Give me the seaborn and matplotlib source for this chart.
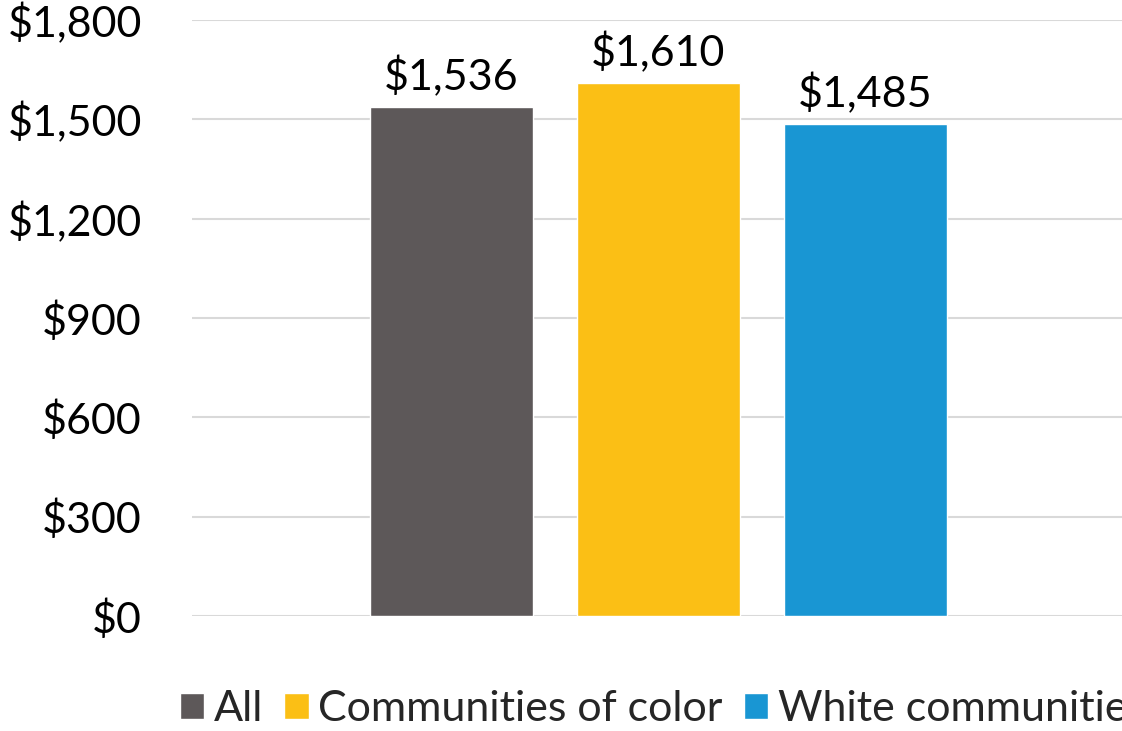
import matplotlib
matplotlib.use("Agg")
import matplotlib.pyplot as plt
import seaborn as sns
import pandas as pd

groups = ["All", "Communities of color", "White communities"]
values = [1536, 1610, 1485]
colors = ["#5d5859", "#fbbf15", "#1996d3"]
yticks = [0, 300, 600, 900, 1200, 1500, 1800]

sns.set_theme(style="white")
plt.rcParams["font.family"] = ["Lato", "DejaVu Sans"]

df = pd.DataFrame({"cat": [""] * len(groups), "group": groups, "value": values})

FS = 31
W, H = 1122, 731
fig = plt.figure(figsize=(W / 100, H / 100), dpi=100)
ax = fig.add_axes([192 / W, (H - 616) / H, (W - 192) / W, 596 / H])

sns.barplot(data=df, x="cat", y="value", hue="group", palette=colors,
            hue_order=groups, width=0.8, gap=0.2126, saturation=1,
            ax=ax, legend=True, errorbar=None)

ax.set_xlim(-0.6037 + (2 / 776), 0.5973)
ax.set_ylim(0, 1800)
ax.set_yticks(yticks)
ax.set_yticklabels([f"${v:,}" for v in yticks], fontsize=FS, color="black")
ax.set_xticks([])
ax.set_xlabel("")
ax.set_ylabel("")
ax.tick_params(axis="y", length=0, pad=36)
ax.grid(axis="y", color="#d9d9d9", linewidth=1.5)
ax.set_axisbelow(True)
for s in ax.spines.values():
    s.set_visible(False)

for cont in ax.containers:
    ax.bar_label(cont, labels=[f"${v:,.0f}" for v in cont.datavalues],
                 fontsize=FS, padding=7, color="black")

handles, labels = ax.get_legend_handles_labels()
ax.get_legend().remove()
fig.legend(handles, labels, loc="center left", bbox_to_anchor=(180 / W, (H - 709) / H),
           ncol=3, frameon=False, fontsize=FS, handlelength=0.56, handleheight=0.56,
           handletextpad=0.22, columnspacing=0.5, borderpad=0, borderaxespad=0)

fig.savefig("out.png", dpi=100)
